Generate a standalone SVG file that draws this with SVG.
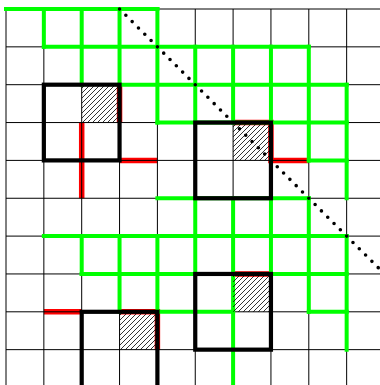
<svg xmlns="http://www.w3.org/2000/svg" width="380" height="385" viewBox="0 0 380 385">
<style>
.grid{stroke:#000;stroke-width:1;fill:none}
.red{stroke:#ff0000;stroke-width:5.5;fill:none;stroke-linecap:butt}
.green{stroke:#00ff00;stroke-width:4;fill:none;stroke-linecap:square}
.sq{stroke:#000;stroke-width:4.2;fill:none}
.hatch{fill:url(#hatch);stroke:none}
.diag{stroke:#000;stroke-width:3.6;stroke-linecap:round;stroke-dasharray:0 8.922;fill:none}
</style>
<defs>
<pattern id="hatch" patternUnits="userSpaceOnUse" width="5" height="5">
<path d="M-1,1 L1,-1 M0,5 L5,0 M4,6 L6,4" stroke="#000" stroke-width="0.8"/>
</pattern>
</defs>
<rect width="380" height="385" fill="#fff"/>
<g id="red-edges">
<path class="red" d="M119.55,84.7 V122.55 M81.7,122.55 V198.25 M119.55,160.4 H157.4 M233.1,122.55 H270.95 V160.4 H308.8 M233.1,273.95 H270.95 M43.85,311.8 H81.7 M119.55,311.8 H157.4 V349.65"/>
</g>
<g id="grid">
<path class="grid" d="M6,9 V385 M43.85,9 V385 M81.7,9 V385 M119.55,9 V385 M157.4,9 V385 M195.25,9 V385 M233.1,9 V385 M270.95,9 V385 M308.8,9 V385 M346.65,9 V385 M6,9 H380 M6,46.85 H380 M6,84.7 H380 M6,122.55 H380 M6,160.4 H380 M6,198.25 H380 M6,236.1 H380 M6,273.95 H380 M6,311.8 H380 M6,349.65 H380"/>
</g>
<g id="green-paths">
<path class="green" d="M6,9 H157.4 M43.85,46.85 H308.8 M119.55,84.7 H346.65 M157.4,122.55 H346.65 M308.8,160.4 H346.65 M157.4,198.25 H308.8 M43.85,236.1 H346.65 M81.7,273.95 H346.65 M157.4,311.8 H233.1 M308.8,311.8 H346.65"/>
<path class="green" d="M43.85,9 V46.85 M81.7,9 V84.7 M81.7,236.1 V273.95 M119.55,9 V84.7 M119.55,236.1 V311.8 M157.4,9 V122.55 M157.4,236.1 V311.8 M195.25,46.85 V122.55 M195.25,198.25 V273.95 M233.1,46.85 V122.55 M233.1,198.25 V390 M270.95,46.85 V122.55 M270.95,198.25 V273.95 M308.8,46.85 V160.4 M308.8,198.25 V311.8 M346.65,84.7 V198.25 M346.65,236.1 V349.65"/>
</g>
<g id="hatched-cells">
<rect class="hatch" x="81.7" y="84.7" width="37.85" height="37.85"/>
<rect class="hatch" x="233.1" y="122.55" width="37.85" height="37.85"/>
<rect class="hatch" x="233.1" y="273.95" width="37.85" height="37.85"/>
<rect class="hatch" x="119.55" y="311.8" width="37.85" height="37.85"/>
</g>
<g id="square-1"><rect class="sq" x="43.85" y="84.7" width="75.7" height="75.7"/></g>
<g id="square-2"><rect class="sq" x="195.25" y="122.55" width="75.7" height="75.7"/></g>
<g id="square-3"><rect class="sq" x="195.25" y="273.95" width="75.7" height="75.7"/></g>
<g id="square-4"><rect class="sq" x="81.7" y="311.8" width="75.7" height="80"/></g>
<g id="diagonal">
<path class="diag" d="M119.55,9 L384.5,273.95"/>
</g>
</svg>
